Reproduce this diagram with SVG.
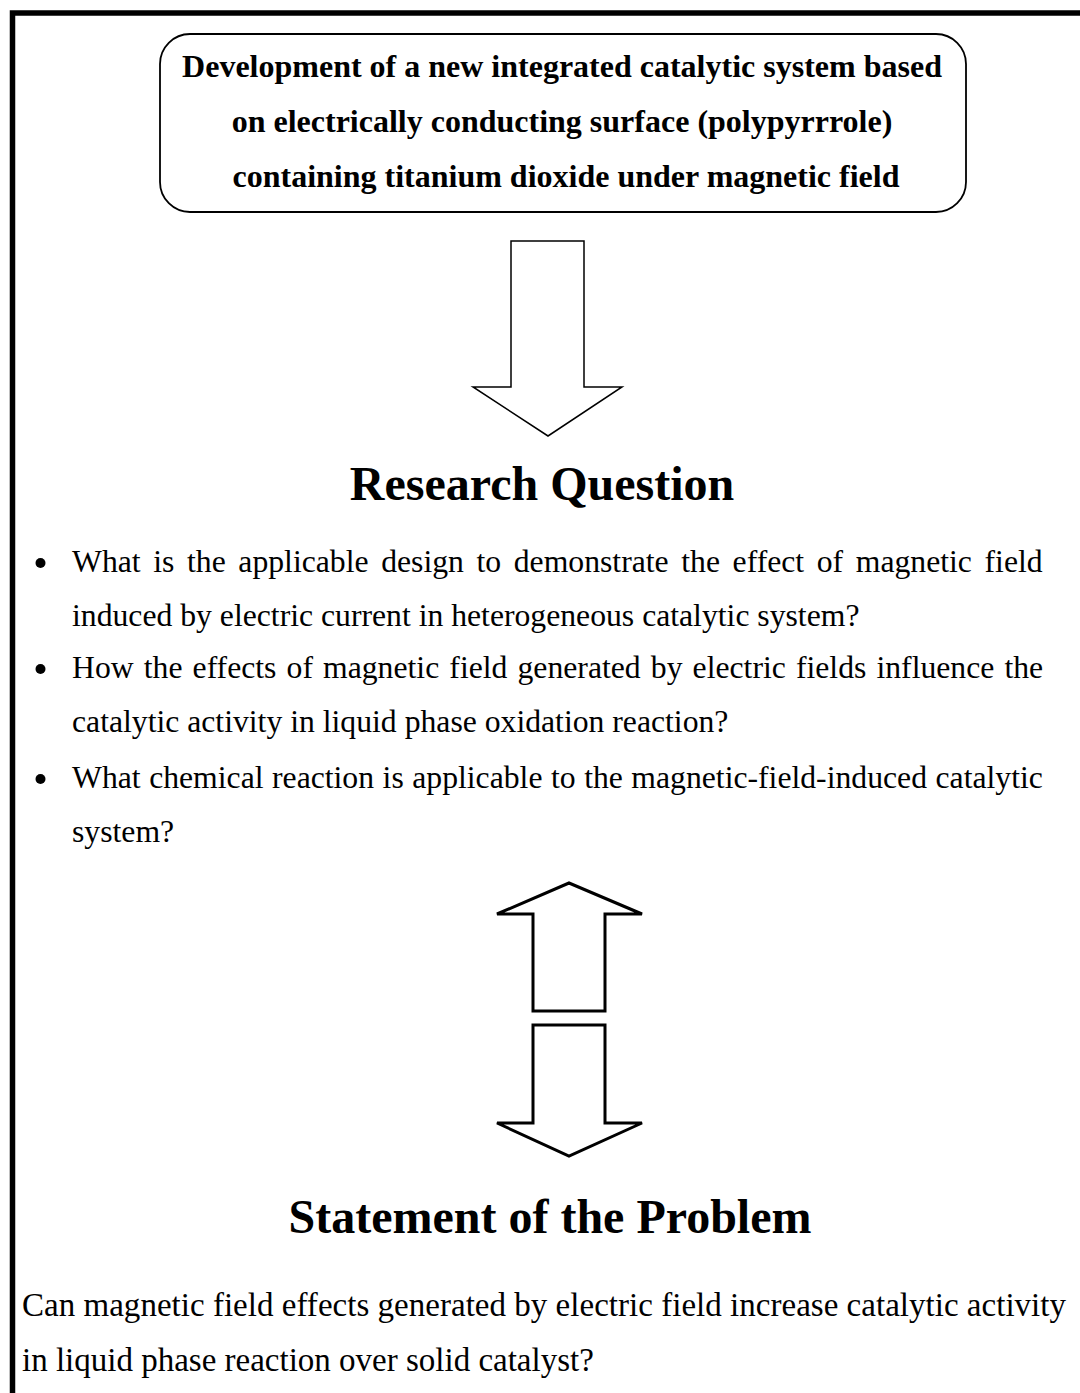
<svg xmlns="http://www.w3.org/2000/svg" width="1080" height="1393" viewBox="0 0 1080 1393">
<style>
.t{font-family:"Liberation Serif","Times New Roman",serif;fill:#000}
.b{font-weight:bold}
.box{fill:#fff;stroke:#000;stroke-width:1.8}
.ar1{fill:#fff;stroke:#000;stroke-width:1.5;stroke-linejoin:miter}
.ar2{fill:#fff;stroke:#000;stroke-width:3;stroke-linejoin:miter}
.body{font-size:31.7px}
.para{font-size:33px}
.head{font-size:48px;font-weight:bold}
</style>
<rect width="1080" height="1393" fill="#fff"/>
<path d="M12.5 1393 V13 H1080" fill="none" stroke="#000" stroke-width="5.5"/>
<g id="node-top">
<rect class="box" x="160" y="34" width="806" height="178" rx="30" ry="30"/>
<text class="t b" font-size="32" text-anchor="middle">
<tspan x="566" y="77">Development of a new integrated catalytic system based</tspan>
<tspan x="566" y="132">on electrically conducting surface (polypyrrrole)</tspan>
<tspan x="566" y="187">containing titanium dioxide under magnetic field</tspan>
</text>
</g>
<g id="connectors">
<path class="ar1" d="M511 241 H584 V387 H622 L548 436 L473 387 H511 Z"/>
<path class="ar2" d="M533 1011 V914 H497 L569 883 L642 914 H605 V1011 Z"/>
<path class="ar2" d="M533 1025 H605 V1123 H642 L569 1156 L497 1123 H533 Z"/>
</g>
<g id="node-research">
<text class="t head" x="542" y="500" text-anchor="middle" font-size="48.5">Research Question</text>
<circle cx="40.5" cy="563" r="5"/>
<circle cx="40.5" cy="669" r="5"/>
<circle cx="40.5" cy="779" r="5"/>
<text class="t body">
<tspan x="72" y="572" word-spacing="4.7">What is the applicable design to demonstrate the effect of magnetic field</tspan>
<tspan x="72" y="626">induced by electric current in heterogeneous catalytic system?</tspan>
<tspan x="72" y="678" word-spacing="2.2">How the effects of magnetic field generated by electric fields influence the</tspan>
<tspan x="72" y="732">catalytic activity in liquid phase oxidation reaction?</tspan>
<tspan x="72" y="788" word-spacing="0.6">What chemical reaction is applicable to the magnetic-field-induced catalytic</tspan>
<tspan x="72" y="842">system?</tspan>
</text>
</g>
<g id="node-statement">
<text class="t head" x="550" y="1233" text-anchor="middle">Statement of the Problem</text>
<text class="t para">
<tspan x="22" y="1316" textLength="1044" lengthAdjust="spacing">Can magnetic field effects generated by electric field increase catalytic activity</tspan>
<tspan x="22" y="1371">in liquid phase reaction over solid catalyst?</tspan>
</text>
</g>
</svg>
